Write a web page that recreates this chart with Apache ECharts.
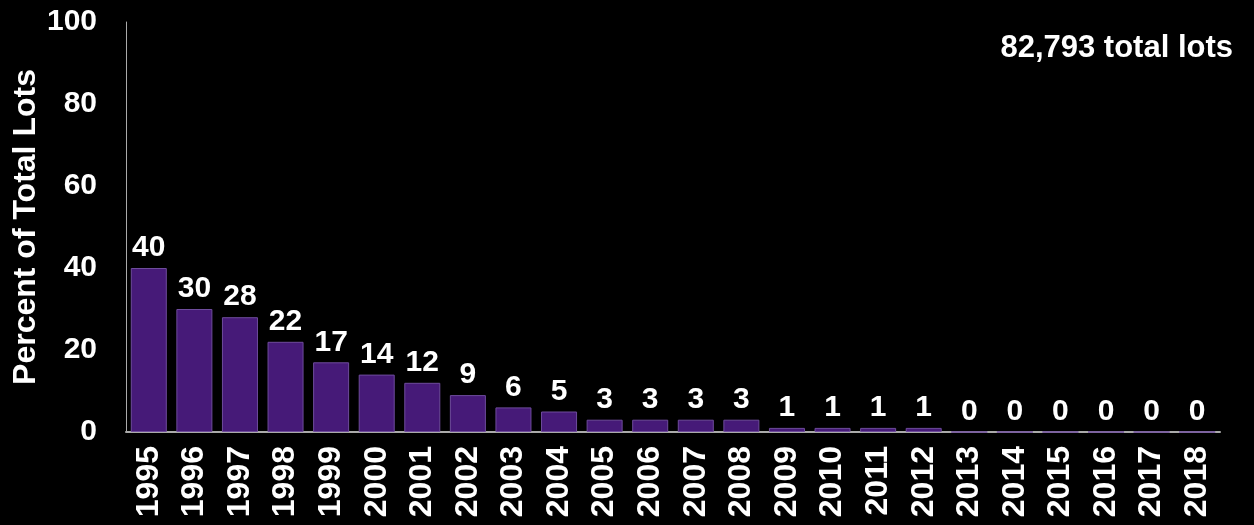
<!DOCTYPE html>
<html><head><meta charset="utf-8">
<script src="https://cdn.jsdelivr.net/npm/echarts@6/dist/echarts.min.js"></script>
<style>html,body{margin:0;padding:0;background:#000;}#c{width:1254px;height:525px;}</style>
</head><body><div id="c"></div>
<script>
const years = ['1995','1996','1997','1998','1999','2000','2001','2002','2003','2004','2005','2006','2007','2008','2009','2010','2011','2012','2013','2014','2015','2016','2017','2018'];
const percents = [40,30,28,22,17,14,12,9,6,5,3,3,3,3,1,1,1,1,0,0,0,0,0,0];
const yTicks = [0,20,40,60,80,100];
const totalLabel = '82,793 total lots';
const font = 'Liberation Sans, Arial, sans-serif';
const chart = echarts.init(document.getElementById('c'));
chart.setOption({
  backgroundColor: '#000',
  animation: false,
  title: {text: totalLabel, right: 16, top: 28, textStyle: {color: '#fff', fontFamily: font, fontWeight: 'bold', fontSize: 31}},
  grid: {left: 126, right: 34, top: 22, bottom: 93, containLabel: false, outerBoundsMode: 'none'},
  xAxis: {
    type: 'category', data: years,
    axisLine: {lineStyle: {color: '#aaa', width: 2}},
    axisTick: {show: false},
    axisLabel: {rotate: 90, color: '#fff', fontFamily: font, fontWeight: 'bold', fontSize: 32, margin: 14, interval: 0}
  },
  yAxis: {
    type: 'value', min: 0, max: 100, interval: 20,
    name: 'Percent of Total Lots', nameLocation: 'middle', nameGap: 84, nameRotate: 90, nameMoveOverlap: false,
    nameTextStyle: {color: '#fff', fontFamily: font, fontWeight: 'bold', fontSize: 32},
    axisLine: {show: true, lineStyle: {color: '#aaa', width: 1}},
    axisTick: {show: false},
    splitLine: {show: false},
    axisLabel: {color: '#fff', fontFamily: font, fontWeight: 'bold', fontSize: 30, margin: 29,
      formatter: v => yTicks.includes(v) ? String(v) : ''}
  },
  series: [{
    type: 'bar', data: percents, barWidth: '79%',
    itemStyle: {color: '#461a78', borderColor: '#6e4c9c', borderWidth: 1},
    label: {show: true, position: 'top', distance: 5, color: '#fff', fontFamily: font, fontWeight: 'bold', fontSize: 30}
  }]
});
</script></body></html>
